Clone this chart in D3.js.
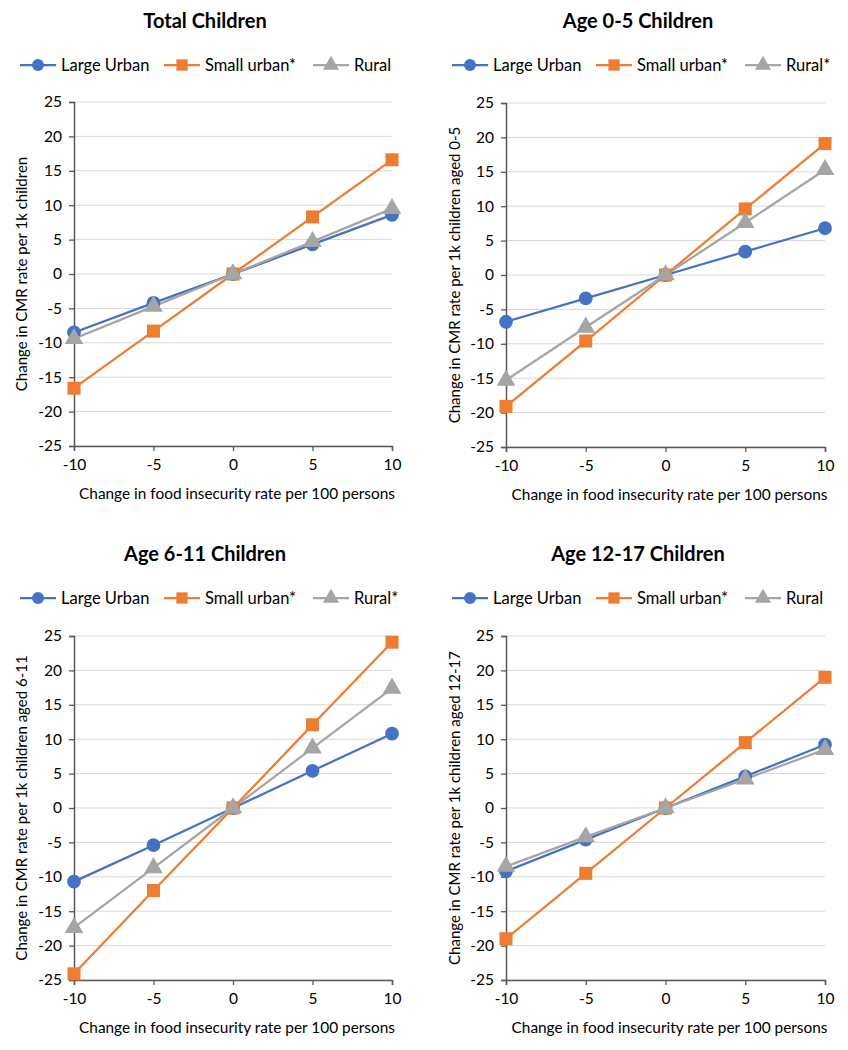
<!DOCTYPE html>
<html><head><meta charset="utf-8">
<script src="https://cdn.jsdelivr.net/npm/d3@7"></script>
<style>body{margin:0;background:#fff;}text{font-family:Lato,"Open Sans",sans-serif;}</style>
</head><body>
<svg id="c" width="848" height="1050"></svg>
<script>
const xValues = [-10, -5, 0, 5, 10];
const yTicks = [-25, -20, -15, -10, -5, 0, 5, 10, 15, 20, 25];
const seriesNames = ["Large Urban", "Small urban*", "Rural"];
const titles = ["Total Children", "Age 0-5 Children", "Age 6-11 Children", "Age 12-17 Children"];
const ruralLabels = ["Rural", "Rural*", "Rural*", "Rural"];
const yTitles = ["Change in CMR rate per 1k children", "Change in CMR rate per 1k children aged 0-5",
  "Change in CMR rate per 1k children aged 6-11", "Change in CMR rate per 1k children aged 12-17"];
const xTitle = "Change in food insecurity rate per 100 persons";

const totalLarge = [-8.5, -4.2, 0, 4.3, 8.6];
const totalSmall = [-16.6, -8.3, 0, 8.3, 16.6];
const totalRural = [-9.4, -4.7, 0, 4.7, 9.5];
const age05Large = [-6.8, -3.4, 0, 3.4, 6.8];
const age05Small = [-19.1, -9.6, 0, 9.6, 19.1];
const age05Rural = [-15.3, -7.6, 0, 7.6, 15.3];
const age611Large = [-10.7, -5.4, 0, 5.4, 10.8];
const age611Small = [-24.1, -12.0, 0, 12.1, 24.1];
const age611Rural = [-17.4, -8.7, 0, 8.7, 17.4];
const age1217Large = [-9.2, -4.6, 0, 4.6, 9.2];
const age1217Small = [-19.0, -9.5, 0, 9.5, 19.0];
const age1217Rural = [-8.5, -4.2, 0, 4.2, 8.5];

const panelsData = [
  [totalLarge, totalSmall, totalRural],
  [age05Large, age05Small, age05Rural],
  [age611Large, age611Small, age611Rural],
  [age1217Large, age1217Small, age1217Rural]
];
const colors = ["#4472C4", "#ED7D31", "#A5A5A5"];
const shapes = [d3.symbolCircle, d3.symbolSquare, d3.symbolTriangle];
const shapeSizes = [150, 170, 150];
const fmt = d => String(d); // hyphen minus like the original

const svg = d3.select("#c");
const layouts = [
  {ox: 0, oy: 0, x0: 74, x1: 392, yTop: 102, yBot: 446, titleX: 205, legX: 20, axTitleX: 22},
  {ox: 0, oy: 0, x0: 506, x1: 825, yTop: 103, yBot: 447, titleX: 638, legX: 452, axTitleX: 455},
  {ox: 0, oy: 533, x0: 74, x1: 392, yTop: 103, yBot: 447, titleX: 205, legX: 20, axTitleX: 22},
  {ox: 0, oy: 533, x0: 506, x1: 825, yTop: 103, yBot: 447, titleX: 638, legX: 452, axTitleX: 455}
];

layouts.forEach((L, i) => {
  const g = svg.append("g").attr("transform", `translate(${L.ox},${L.oy})`);
  const x = d3.scaleLinear().domain([-10, 10]).range([L.x0, L.x1]);
  const y = d3.scaleLinear().domain([-25, 25]).range([L.yBot, L.yTop]);

  g.append("text").attr("x", L.titleX).attr("y", 28).attr("text-anchor", "middle")
    .attr("font-size", 20).attr("font-weight", "bold").attr("fill", "#000").text(titles[i]);

  // legend
  const legLabels = [seriesNames[0], seriesNames[1], ruralLabels[i]];
  const legOffsets = [0, 144, 293];
  legLabels.forEach((lab, k) => {
    const lx = L.legX + legOffsets[k];
    g.append("line").attr("x1", lx).attr("x2", lx + 36).attr("y1", 65).attr("y2", 65)
      .attr("stroke", colors[k]).attr("stroke-width", 2.25);
    g.append("path").attr("d", d3.symbol().type(shapes[k]).size(shapeSizes[k] * 0.75)())
      .attr("transform", `translate(${lx + 18},65)`).attr("fill", colors[k]);
    g.append("text").attr("x", lx + 41).attr("y", 71).attr("font-size", 16.5).attr("fill", "#000").text(lab);
  });

  // grid
  g.append("g").selectAll("line").data(yTicks).join("line")
    .attr("x1", L.x0).attr("x2", L.x1).attr("y1", d => y(d)).attr("y2", d => y(d))
    .attr("stroke", "#d9d9d9").attr("stroke-width", 1);

  const ya = g.append("g").attr("transform", `translate(${L.x0},0)`)
    .call(d3.axisLeft(y).tickValues(yTicks).tickSize(5).tickPadding(7).tickFormat(fmt));
  const xa = g.append("g").attr("transform", `translate(0,${L.yBot})`)
    .call(d3.axisBottom(x).tickValues(xValues).tickSize(5).tickPadding(8).tickFormat(fmt));
  [ya, xa].forEach(a => {
    a.select(".domain").attr("stroke", "#595959").attr("stroke-width", 1.5);
    a.selectAll(".tick line").attr("stroke", "#595959").attr("stroke-width", 1.3);
    a.selectAll(".tick text").attr("font-size", 15.5).attr("fill", "#000").attr("font-family", "Lato,sans-serif");
  });

  g.append("text").attr("x", (L.x0 + L.x1) / 2 + 4).attr("y", L.yBot + 53).attr("text-anchor", "middle")
    .attr("font-size", 15.4).attr("fill", "#000").text(xTitle);
  g.append("text").attr("transform", `translate(${L.axTitleX + 5},${(L.yTop + L.yBot) / 2}) rotate(-90)`)
    .attr("text-anchor", "middle").attr("font-size", 15).attr("fill", "#000").text(yTitles[i]);

  const line = d3.line().x((d, j) => x(xValues[j])).y(d => y(d));
  panelsData[i].forEach((vals, k) => {
    g.append("path").datum(vals).attr("d", line).attr("fill", "none")
      .attr("stroke", colors[k]).attr("stroke-width", 2.25);
  });
  panelsData[i].forEach((vals, k) => {
    g.append("g").selectAll("path").data(vals).join("path")
      .attr("d", d3.symbol().type(shapes[k]).size(shapeSizes[k])())
      .attr("transform", (d, j) => `translate(${x(xValues[j])},${y(d)})`)
      .attr("fill", colors[k]);
  });
});
</script>
</body></html>
